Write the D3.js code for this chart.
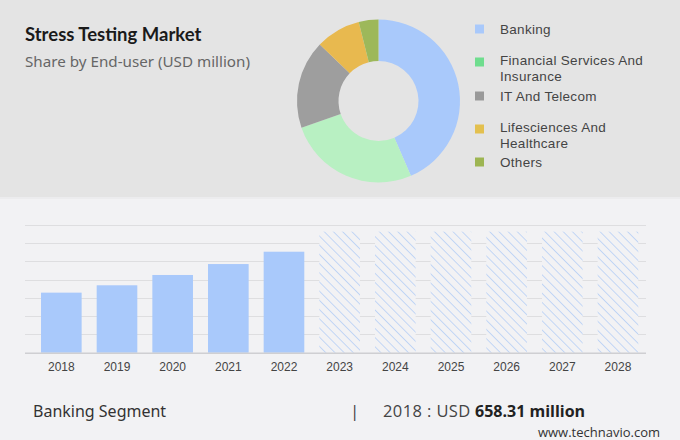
<!DOCTYPE html>
<html><head><meta charset="utf-8">
<script src="https://cdn.jsdelivr.net/npm/d3@7"></script>
<style>
html,body{margin:0;padding:0;background:#f2f2f4;}
svg{display:block;}
</style></head>
<body>
<svg id="chart" width="680" height="440"></svg>
<script>
// ---- data ----
const segments = ["Banking", "Financial Services And Insurance", "IT And Telecom", "Lifesciences And Healthcare", "Others"];
const legendLines = [["Banking"], ["Financial Services And", "Insurance"], ["IT And Telecom"], ["Lifesciences And", "Healthcare"], ["Others"]];
const shares = [43.5, 26.2, 17.5, 8.9, 3.9];
const sliceColors = ["#a9c9fb", "#b8f0c2", "#9e9e9e", "#e8b94f", "#9db85a"];
const legendColors = ["#a9c9fb", "#6fdd8e", "#999999", "#e3c04f", "#9db552"];

const years = ["2018","2019","2020","2021","2022","2023","2024","2025","2026","2027","2028"];
const values = [658.31, 739, 852, 972, 1107, 1327, 1327, 1327, 1327, 1327, 1327];
const forecast = [false,false,false,false,false,true,true,true,true,true,true];
const gridTicks = [0,200,400,600,800,1000,1200,1400];

const svg = d3.select("#chart");

// backgrounds
svg.append("rect").attr("x",0).attr("y",0).attr("width",680).attr("height",440).attr("fill","#f2f2f4");
svg.append("rect").attr("x",0).attr("y",0).attr("width",680).attr("height",197).attr("fill","#e4e4e4");
svg.append("rect").attr("x",0).attr("y",197).attr("width",680).attr("height",2).attr("fill","#ececee");

// title
svg.append("text").attr("x",25).attr("y",41).text("Stress Testing Market")
  .attr("font-family","Lato, 'Open Sans', sans-serif").attr("font-weight","bold")
  .attr("font-size",18.5).attr("fill","#1a1a1a");
svg.append("text").attr("x",25).attr("y",67).text("Share by End-user (USD million)")
  .attr("font-family","'Noto Sans', 'Open Sans', sans-serif")
  .attr("font-size",15.2).attr("fill","#666");

// donut
const pie = d3.pie().sort(null).value(d => d)(shares);
const arc = d3.arc().innerRadius(40).outerRadius(81.5);
const dg = svg.append("g").attr("transform","translate(378.5,101)");
dg.selectAll("path").data(pie).join("path")
  .attr("d", arc).attr("fill",(d,i)=>sliceColors[i]);

// legend
const legendY = [29, 62, 96, 129, 162];
const lg = svg.append("g");
segments.forEach((s,i)=>{
  lg.append("rect").attr("x",475).attr("y",legendY[i]-4.5).attr("width",9).attr("height",9).attr("fill",legendColors[i]);
  const two = legendLines[i].length > 1;
  const t = lg.append("text").attr("x",500).attr("y",legendY[i]+4.8-(two?1.5:0))
      .attr("font-family","'Liberation Sans', Arial, sans-serif").attr("font-size",13.5)
      .attr("letter-spacing","0.3").attr("fill","#444");
  legendLines[i].forEach((ln,j)=>{
    t.append("tspan").attr("x",500).attr("dy", j===0?0:15.3).text(ln);
  });
});

// bar chart
const x = d3.scaleBand().domain(years).range([33.5,645.8]).paddingInner(0.27).paddingOuter(0.135);
const y = d3.scaleLinear().domain([0,1400]).range([352.7,225]);

const defs = svg.append("defs");
const pat = defs.append("pattern").attr("id","hatch").attr("patternUnits","userSpaceOnUse")
  .attr("width",6.5).attr("height",6.5).attr("patternTransform","rotate(-45)");
pat.append("rect").attr("width",6.5).attr("height",6.5).attr("fill","#f2f2f4");
pat.append("line").attr("x1",0).attr("y1",0).attr("x2",0).attr("y2",6.5)
  .attr("stroke","#b3cdf6").attr("stroke-width",1.5);

const grid = svg.append("g");
grid.selectAll("line").data(gridTicks).join("line")
  .attr("x1",25).attr("x2",646)
  .attr("y1",d=>Math.round(y(d))+0.5).attr("y2",d=>Math.round(y(d))+0.5)
  .attr("stroke",d=>d===0?"#cfcfd2":"#dedee0").attr("stroke-width",1);

svg.append("g").selectAll("rect").data(years).join("rect")
  .attr("x",d=>x(d)).attr("width",x.bandwidth())
  .attr("y",(d,i)=>y(values[i])).attr("height",(d,i)=>y(0)-y(values[i]))
  .attr("fill",(d,i)=>forecast[i]?"url(#hatch)":"#a9c9fb");

// redraw baseline over bars
svg.append("line").attr("x1",25).attr("x2",646).attr("y1",353).attr("y2",353)
  .attr("stroke","#cfcfd2").attr("stroke-width",1);

const xAxis = d3.axisBottom(x).tickSize(0).tickPadding(9);
const ax = svg.append("g").attr("transform","translate(0,353)").call(xAxis);
ax.select(".domain").remove();
ax.selectAll("text").attr("font-family","'Liberation Sans', Arial, sans-serif")
  .attr("font-size",12).attr("fill","#444");

// footer
svg.append("text").attr("x",33).attr("y",417).text("Banking Segment")
  .attr("font-family","'Noto Sans', sans-serif").attr("font-size",16).attr("fill","#333");
svg.append("text").attr("x",350).attr("y",417).text("|")
  .attr("font-family","'Open Sans', sans-serif").attr("font-size",17).attr("fill","#444");
const ft = svg.append("text").attr("y",417)
  .attr("font-family","'Open Sans', sans-serif").attr("font-size",16.5).attr("fill","#444");
ft.append("tspan").attr("x",383).attr("letter-spacing","0.4").text("2018 : USD ");
ft.append("tspan").attr("x",475).text("658.31 million").attr("font-weight","bold").attr("fill","#222").attr("font-size",16);
svg.append("text").attr("x",660).attr("y",437).attr("text-anchor","end").text("www.technavio.com")
  .attr("font-family","'Open Sans', sans-serif").attr("font-size",13).attr("fill","#333");
</script>
</body></html>
